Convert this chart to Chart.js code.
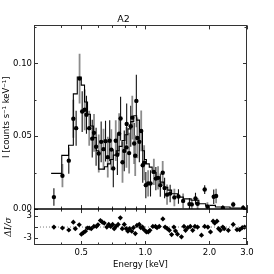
<!DOCTYPE html>
<html>
<head>
<meta charset="utf-8">
<script src="https://cdn.jsdelivr.net/npm/chart.js@4.4.1/dist/chart.umd.min.js"></script>
<style>
html, body { margin: 0; padding: 0; background: #fff; }
canvas { display: block; }
</style>
</head>
<body>
<canvas id="spec" width="274" height="274"></canvas>
<script>
// measured spectrum (keV, counts/s/keV)
var energy = [0.372, 0.408, 0.437, 0.459, 0.473, 0.491, 0.505, 0.519, 0.529, 0.545,
	0.563, 0.574, 0.587, 0.604, 0.620, 0.636, 0.650, 0.666, 0.680, 0.692,
	0.707, 0.726, 0.739, 0.753, 0.765, 0.781, 0.796, 0.815, 0.817, 0.839,
	0.854, 0.868, 0.886, 0.896, 0.907, 0.917, 0.937, 0.956, 0.972, 0.987,
	1.005, 1.030, 1.057, 1.096, 1.120, 1.147, 1.175, 1.206, 1.231, 1.264,
	1.307, 1.368, 1.430, 1.504, 1.610, 1.651, 1.719, 1.759, 1.899, 1.956,
	2.094, 2.148, 2.311, 2.585, 2.877];
var flux = [0.0082, 0.0229, 0.0332, 0.0620, 0.0555, 0.0895, 0.0669, 0.0681, 0.0647, 0.0555,
	0.0483, 0.0523, 0.0428, 0.0381, 0.0461, 0.0411, 0.0466, 0.0356, 0.0469, 0.0408,
	0.0279, 0.0469, 0.0373, 0.0517, 0.0621, 0.0321, 0.0399, 0.0423, 0.0584, 0.0384,
	0.0568, 0.0627, 0.0450, 0.0366, 0.0742, 0.0488, 0.0461, 0.0536, 0.0301, 0.0318,
	0.0164, 0.0176, 0.0176, 0.0255, 0.0209, 0.0214, 0.0164, 0.0249, 0.0144, 0.0099,
	0.0106, 0.0080, 0.0086, 0.0056, 0.0034, 0.0032, 0.0072, 0.0036, 0.0134, 0.0017,
	0.0084, 0.0090, 0.0007, 0.0031, 0.0008];
var fluxErr = [0.006, 0.008, 0.009, 0.013, 0.012, 0.017, 0.014, 0.014, 0.013, 0.012,
	0.013, 0.013, 0.013, 0.013, 0.014, 0.014, 0.014, 0.014, 0.014, 0.014,
	0.013, 0.014, 0.014, 0.014, 0.015, 0.014, 0.014, 0.014, 0.014, 0.014,
	0.014, 0.015, 0.014, 0.014, 0.018, 0.014, 0.014, 0.014, 0.012, 0.012,
	0.009, 0.009, 0.009, 0.009, 0.008, 0.008, 0.008, 0.008, 0.007, 0.007,
	0.006, 0.006, 0.005, 0.005, 0.004, 0.004, 0.004, 0.004, 0.003, 0.003,
	0.005, 0.005, 0.002, 0.002, 0.002];

// folded model, bin left edges
var modelEnergy = [0.361, 0.405, 0.436, 0.459, 0.479, 0.500, 0.518, 0.535, 0.552, 0.570,
	0.588, 0.604, 0.643, 0.664, 0.685, 0.707, 0.730, 0.753, 0.777, 0.802,
	0.828, 0.854, 0.882, 0.910, 0.939, 0.969, 0.990, 1.011, 1.043, 1.076,
	1.123, 1.171, 1.221, 1.274, 1.328, 1.415, 1.507, 1.639, 1.783, 1.919,
	2.132, 2.497, 2.985];
var modelFlux = [0.0245, 0.0368, 0.0438, 0.0790, 0.0906, 0.0850, 0.0735, 0.0650, 0.0570, 0.0490,
	0.0400, 0.0274, 0.0290, 0.0310, 0.0340, 0.0370, 0.0400, 0.0430, 0.0470, 0.0510,
	0.0550, 0.0600, 0.0640, 0.0610, 0.0530, 0.0400, 0.0340, 0.0310, 0.0288, 0.0250,
	0.0220, 0.0185, 0.0150, 0.0130, 0.0105, 0.0082, 0.0070, 0.0060, 0.0036, 0.0025,
	0.0014, 0.0007, 0.0007];

// residuals (data-model)/sigma
var resEnergy = [0.372, 0.408, 0.437, 0.459, 0.469, 0.489, 0.501, 0.512, 0.523, 0.534,
	0.545, 0.557, 0.573, 0.589, 0.599, 0.615, 0.628, 0.641, 0.659, 0.673,
	0.687, 0.702, 0.714, 0.727, 0.745, 0.763, 0.779, 0.796, 0.813, 0.828,
	0.842, 0.863, 0.879, 0.897, 0.913, 0.936, 0.952, 0.969, 0.986, 1.011,
	1.032, 1.050, 1.084, 1.115, 1.134, 1.162, 1.208, 1.238, 1.269, 1.296,
	1.328, 1.361, 1.385, 1.415, 1.477, 1.518, 1.544, 1.582, 1.626, 1.668,
	1.709, 1.757, 1.834, 1.899, 1.966, 2.022, 2.080, 2.116, 2.169, 2.207,
	2.247, 2.310, 2.344, 2.452, 2.585, 2.693, 2.771, 2.850, 2.922];
var resValue = [0.0, -0.27, -0.82, 1.36, -0.45, 0.64, -2.0, -1.55, -1.18, -0.27,
	-0.27, -0.45, 0.18, 0.18, 0.64, 1.82, 1.36, 1.09, 0.0, 0.73,
	0.18, 0.73, -0.45, 0.18, 0.73, 2.55, -0.45, 0.73, -0.45, -1.18,
	-0.45, -1.18, -0.18, -1.82, 0.45, 0.73, -0.18, 0.0, -0.73, -1.36,
	-1.36, -0.91, 0.18, 0.18, -0.18, 0.18, 2.27, 0.0, -0.45, -0.91,
	-2.09, 0.0, -1.09, -2.0, -2.73, 0.18, -0.91, -0.18, 0.18, -0.91,
	0.18, 0.0, -2.27, 0.18, 0.0, -1.36, 1.64, 1.09, 1.64, -0.45,
	-0.91, 0.0, -0.45, -0.91, 0.73, -0.73, -0.73, -0.18, 0.0];

var xTicks = [0.4, 0.5, 0.6, 0.7, 0.8, 0.9, 1, 2, 3];
var xLabels = [0.5, 1, 2, 3];
var yTicks = [0, 0.025, 0.05, 0.075, 0.1, 0.125];
var yLabels = [0, 0.05, 0.1];
var resTicks = [-3, 0, 3];
var resLabels = {'-3': '-3', '0': '0.0', '3': '3'};

function pairs(xs, ys) {
	var out = [];
	for (var i = 0; i < xs.length; i++) out.push({x: xs[i], y: ys[i]});
	return out;
}

var panelPlugin = {
	id: 'panels',
	beforeDatasetsDraw: function (chart) {
		// error bars, alternating black / grey
		var ctx = chart.ctx, xs = chart.scales.x, ys = chart.scales.y;
		ctx.save();
		ctx.beginPath();
		ctx.rect(xs.left, ys.top, xs.right - xs.left, ys.bottom - ys.top);
		ctx.clip();
		for (var i = 0; i < energy.length; i++) {
			var px = xs.getPixelForValue(energy[i]);
			ctx.strokeStyle = i % 2 ? '#8c8c8c' : '#111';
			ctx.lineWidth = i % 2 ? 1.8 : 1.1;
			ctx.beginPath();
			ctx.moveTo(px, ys.getPixelForValue(flux[i] - fluxErr[i]));
			ctx.lineTo(px, ys.getPixelForValue(flux[i] + fluxErr[i]));
			ctx.stroke();
		}
		ctx.restore();
	},
	afterDraw: function (chart) {
		var ctx = chart.ctx, xs = chart.scales.x, ys = chart.scales.y, rs = chart.scales.y2;
		var a = chart.chartArea;
		ctx.save();
		ctx.strokeStyle = '#333';
		ctx.lineWidth = 1;
		ctx.strokeRect(Math.round(a.left) + 0.5, Math.round(a.top) + 0.5,
			Math.round(a.right - a.left) - 1, Math.round(a.bottom - a.top) - 1);

		ctx.beginPath();
		xTicks.forEach(function (v) {
			var px = Math.round(xs.getPixelForValue(v)) + 0.5;
			var len = xLabels.indexOf(v) >= 0 ? 4 : 2.5;
			ctx.moveTo(px, a.top); ctx.lineTo(px, a.top + len);
			ctx.moveTo(px, ys.bottom); ctx.lineTo(px, ys.bottom - len);
			ctx.moveTo(px, rs.top); ctx.lineTo(px, rs.top + len);
			ctx.moveTo(px, a.bottom); ctx.lineTo(px, a.bottom - len);
		});
		yTicks.forEach(function (v) {
			var py = Math.round(ys.getPixelForValue(v)) + 0.5;
			var len = yLabels.indexOf(v) >= 0 ? 4 : 2.5;
			ctx.moveTo(a.left, py); ctx.lineTo(a.left + len, py);
			ctx.moveTo(a.right, py); ctx.lineTo(a.right - len, py);
		});
		resTicks.forEach(function (v) {
			var py = Math.round(rs.getPixelForValue(v)) + 0.5;
			ctx.moveTo(a.left, py); ctx.lineTo(a.left + 4, py);
			ctx.moveTo(a.right, py); ctx.lineTo(a.right - 4, py);
		});
		ctx.stroke();

		// zero line of the spectrum = panel divider
		ctx.strokeStyle = '#000';
		ctx.lineWidth = 1.4;
		ctx.beginPath();
		ctx.moveTo(a.left, ys.bottom);
		ctx.lineTo(a.right, ys.bottom);
		ctx.stroke();
		ctx.restore();
	}
};

Chart.defaults.font.family = 'DejaVu Sans';
Chart.defaults.font.size = 8.5;
Chart.defaults.color = '#000';

var ctx = document.getElementById('spec').getContext('2d');
new Chart(ctx, {
	type: 'scatter',
	data: {
		datasets: [{
			label: 'data',
			data: pairs(energy, flux),
			yAxisID: 'y',
			pointStyle: 'circle',
			pointRadius: 2.2,
			backgroundColor: '#000',
			borderWidth: 0,
			order: 1
		}, {
			type: 'line',
			label: 'model',
			data: pairs(modelEnergy, modelFlux),
			yAxisID: 'y',
			stepped: 'before',
			borderColor: '#000',
			borderWidth: 1.1,
			pointRadius: 0,
			fill: false,
			order: 2
		}, {
			label: 'residuals',
			data: pairs(resEnergy, resValue),
			yAxisID: 'y2',
			pointStyle: 'rectRot',
			pointRadius: 2.6,
			backgroundColor: '#000',
			borderWidth: 0,
			order: 1
		}, {
			type: 'line',
			label: 'zero',
			data: [{x: 0.32, y: 0}, {x: 3.0, y: 0}],
			yAxisID: 'y2',
			borderColor: '#777',
			borderWidth: 1,
			borderDash: [1, 2],
			pointRadius: 0,
			fill: false,
			order: 3
		}]
	},
	options: {
		responsive: false,
		animation: false,
		devicePixelRatio: 1,
		layout: {padding: {left: 0, right: 27, top: 0, bottom: 0}},
		plugins: {
			legend: {display: false},
			tooltip: {enabled: false},
			title: {
				display: true,
				text: 'A2',
				color: '#000',
				font: {size: 9.5, weight: 'normal'},
				padding: {top: 14, bottom: 0}
			}
		},
		scales: {
			x: {
				type: 'logarithmic',
				min: 0.32,
				max: 3.0,
				grid: {display: false, drawTicks: false},
				border: {display: false},
				afterBuildTicks: function (s) {
					s.ticks = xTicks.map(function (v) { return {value: v}; });
				},
				afterFit: function (s) { s.height = 29; },
				ticks: {
					autoSkip: false,
					maxRotation: 0,
					padding: 3,
					callback: function (v) {
						return xLabels.indexOf(v) >= 0 ? v.toFixed(1) : '';
					}
				},
				title: {display: true, text: 'Energy [keV]', padding: {top: 0, bottom: 4}}
			},
			y2: {
				type: 'linear',
				position: 'left',
				stack: 'panels',
				stackWeight: 36,
				min: -5,
				max: 5,
				grid: {display: false, drawTicks: false},
				border: {display: false},
				afterBuildTicks: function (s) {
					s.ticks = resTicks.map(function (v) { return {value: v}; });
				},
				afterFit: function (s) { s.width = 34; },
				ticks: {
					padding: 2,
					callback: function (v) { return resLabels[String(v)]; }
				},
				title: {
					display: true,
					text: '\u0394I/\u03C3',
					font: {family: 'DejaVu Serif', style: 'italic', size: 9},
					padding: {top: 3, bottom: 0}
				}
			},
			y: {
				type: 'linear',
				position: 'left',
				stack: 'panels',
				stackWeight: 184,
				min: 0,
				max: 0.126,
				grid: {display: false, drawTicks: false},
				border: {display: false},
				afterBuildTicks: function (s) {
					s.ticks = yTicks.map(function (v) { return {value: v}; });
				},
				afterFit: function (s) { s.width = 34; },
				ticks: {
					padding: 2,
					callback: function (v) {
						return yLabels.indexOf(v) >= 0 ? v.toFixed(2) : '';
					}
				},
				title: {display: true, text: 'I [counts s\u207B\u00B9 keV\u207B\u00B9]', padding: {top: 2, bottom: 0}}
			}
		}
	},
	plugins: [panelPlugin]
});
</script>
</body>
</html>
